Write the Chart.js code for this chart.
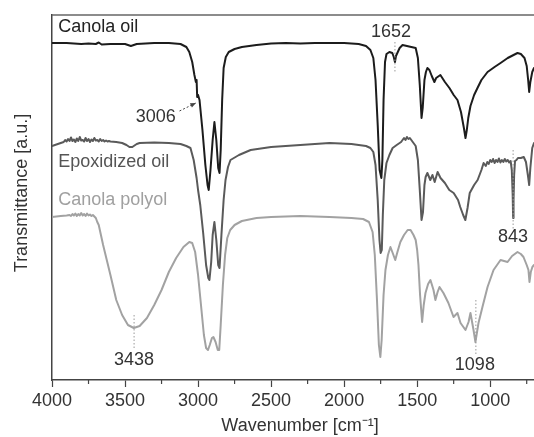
<!DOCTYPE html>
<html>
<head>
<meta charset="utf-8">
<script src="https://cdn.jsdelivr.net/npm/chart.js@4.4.1/dist/chart.umd.min.js"></script>
<style>
  html, body { margin: 0; padding: 0; background: #fff; }
  #wrap { width: 534px; height: 437px; }
</style>
</head>
<body>
<div id="wrap"><canvas id="ftir"></canvas></div>
<script>
// wavenumbers [cm-1] and transmittance (arbitrary units, offset per trace)
const canolaWn = [4000, 3900, 3800, 3750, 3700, 3680, 3660, 3600, 3500, 3460, 3420, 3300, 3200, 3120, 3080, 3060, 3040, 3025, 3015, 3010, 3006, 3000, 2990, 2970, 2950, 2935, 2927, 2915, 2900, 2888, 2875, 2862, 2853, 2845, 2835, 2825, 2810, 2790, 2750, 2700, 2600, 2500, 2400, 2300, 2200, 2100, 2000, 1900, 1850, 1820, 1800, 1785, 1770, 1757, 1745, 1738, 1730, 1720, 1710, 1690, 1670, 1660, 1652, 1645, 1620, 1600, 1570, 1540, 1510, 1495, 1482, 1470, 1462, 1450, 1440, 1430, 1416, 1400, 1382, 1370, 1341, 1310, 1279, 1250, 1224, 1200, 1180, 1169, 1160, 1150, 1135, 1110, 1087, 1060, 1018, 970, 929, 880, 840, 813, 790, 765, 750, 740, 733, 725, 712, 700];
const canolaT = [337, 337, 336, 336.5, 336, 337.5, 335.5, 336, 336, 334, 336, 337, 337, 336, 333, 328, 318, 305, 298, 300, 283, 285, 280, 250, 215, 195, 190, 210, 240, 258, 240, 212, 207, 230, 280, 312, 323, 328, 331, 333, 335, 336.5, 337, 336.5, 337, 337, 337, 336, 334, 330, 322, 300, 255, 210, 202, 220, 280, 318, 326, 328, 327, 323, 318, 324, 332, 335, 334, 333, 332, 322, 295, 262, 272, 300, 308, 312, 310, 304, 298, 302, 305, 298, 292, 285, 280, 268, 252, 242, 250, 262, 274, 285, 292, 300, 308, 313, 317, 322, 325, 327, 326, 322, 314, 300, 288, 298, 308, 312];

const epoxyWn = [4000, 3980, 3960, 3940, 3920, 3910, 3900, 3890, 3880, 3870, 3860, 3850, 3840, 3830, 3820, 3810, 3800, 3790, 3780, 3770, 3760, 3750, 3740, 3730, 3720, 3710, 3700, 3690, 3680, 3670, 3660, 3650, 3640, 3630, 3620, 3610, 3600, 3560, 3520, 3490, 3470, 3450, 3420, 3400, 3300, 3200, 3120, 3080, 3052, 3030, 3010, 3000, 2985, 2965, 2945, 2930, 2922, 2910, 2900, 2888, 2875, 2862, 2853, 2840, 2825, 2812, 2795, 2778, 2720, 2640, 2500, 2300, 2100, 1950, 1850, 1820, 1800, 1785, 1770, 1758, 1750, 1742, 1735, 1725, 1710, 1690, 1668, 1640, 1620, 1610, 1600, 1590, 1580, 1570, 1560, 1550, 1540, 1525, 1510, 1495, 1482, 1470, 1460, 1450, 1442, 1430, 1410, 1395, 1380, 1360, 1340, 1310, 1280, 1250, 1220, 1205, 1185, 1170, 1155, 1140, 1110, 1086, 1060, 1045, 1030, 1020, 1010, 1000, 990, 980, 970, 960, 950, 940, 930, 920, 910, 900, 890, 880, 870, 860, 852, 846, 843, 840, 836, 830, 820, 810, 790, 770, 755, 742, 733, 725, 712, 700];
const epoxyT = [234, 235, 236, 237, 238, 240, 238.5, 241, 239, 242.5, 239, 240.5, 238, 241.5, 239, 243, 239.5, 240, 238.5, 242, 239, 241, 238, 240.5, 239, 242, 239.5, 240, 238.5, 241, 239, 240, 238.5, 239.5, 238.5, 239, 238.5, 238, 237, 235, 233, 233, 236, 237, 237.5, 237, 236, 234, 232, 220, 202, 190, 175, 147, 115, 102, 100, 118, 145, 158, 140, 115, 112, 145, 180, 200, 213, 220, 225, 230, 233, 235, 237, 236, 234, 232, 228, 215, 180, 140, 127, 130, 165, 200, 217, 225, 232, 235, 237, 238, 240, 242, 240, 243, 241, 242, 240, 237, 234, 220, 190, 160, 168, 195, 203, 207, 200, 205, 198, 208, 202, 197, 190, 187, 180, 173, 165, 160, 172, 187, 195, 200, 210, 217, 214, 218, 216, 220, 218, 221, 217, 220, 218, 221.5, 217.5, 220, 218, 221, 218.5, 220, 217.5, 219, 210, 185, 162, 180, 205, 219, 220, 222, 222, 223, 218, 205, 195, 212, 232, 237];

const polyolWn = [4000, 3970, 3940, 3900, 3880, 3870, 3860, 3850, 3840, 3830, 3820, 3810, 3800, 3790, 3780, 3770, 3760, 3750, 3740, 3730, 3720, 3710, 3700, 3690, 3680, 3650, 3600, 3560, 3520, 3480, 3440, 3400, 3350, 3300, 3250, 3200, 3150, 3100, 3060, 3040, 3020, 3000, 2980, 2960, 2945, 2932, 2920, 2905, 2895, 2880, 2865, 2855, 2845, 2830, 2815, 2800, 2780, 2750, 2700, 2600, 2500, 2300, 2100, 1950, 1870, 1830, 1805, 1790, 1775, 1762, 1752, 1743, 1730, 1717, 1700, 1683, 1670, 1650, 1635, 1615, 1590, 1565, 1545, 1525, 1510, 1500, 1491, 1480, 1466, 1455, 1443, 1425, 1409, 1388, 1375, 1360, 1347, 1320, 1286, 1251, 1224, 1203, 1169, 1148, 1135, 1114, 1101, 1080, 1053, 1018, 977, 929, 881, 850, 813, 790, 772, 750, 738, 731, 722, 711, 700];
const polyolT = [163, 163.5, 164, 164.5, 165, 164, 166, 164.5, 166.5, 164, 166, 164.5, 167, 164.5, 166, 164, 166.5, 164.5, 165.5, 164, 165, 163.5, 162, 158, 155, 135, 105, 80, 65, 55, 52, 54, 62, 75, 90, 108, 122, 133, 138, 137, 128, 105, 75, 45, 32, 30, 35, 42, 43, 38, 30, 30, 55, 95, 125, 142, 150, 155, 159, 162, 163, 164, 163, 162, 161, 158, 148, 125, 80, 35, 23, 40, 85, 110, 125, 133, 128, 120, 128, 138, 145, 150, 150, 145, 140, 130, 115, 85, 58, 75, 87, 96, 100, 90, 80, 88, 93, 87, 77, 63, 67, 57, 50, 58, 67, 50, 38, 57, 73, 93, 110, 120, 118, 124, 128, 126, 123, 115, 110, 98, 108, 113, 115];

const tickVals = [4000, 3500, 3000, 2500, 2000, 1500, 1000];
const minorVals = [3750, 3250, 2750, 2250, 1750, 1250, 750];

// peak markers: wavenumber, dotted line from/to (transmittance units), label
const peaks = [
  { wn: 3438, from: 65, to: 30, label: '3438', ty: 20, dx: 0 },
  { wn: 1652, from: 338, to: 308, label: '1652', ty: 348, dx: -4 },
  { wn: 1098, from: 80, to: 25, label: '1098', ty: 15, dx: -1 },
  { wn: 843, from: 230, to: 150, label: '843', ty: 143, dx: 0 }
];

const seriesLabels = [
  { text: 'Canola oil', wn: 3957, t: 353, color: '#222' },
  { text: 'Epoxidized oil', wn: 3957, t: 218, color: '#555' },
  { text: 'Canola polyol', wn: 3957, t: 180, color: '#a0a0a0' }
];

const toPts = (wn, t) => wn.map((w, i) => ({ x: w, y: t[i] }));

const FONT = '18px "Liberation Sans", Arial, sans-serif';

const decorations = {
    id: 'decorations',
    afterDraw(chart) {
        const { ctx, scales: { x, y }, chartArea: a } = chart;
        ctx.save();

        // top frame line
        ctx.strokeStyle = '#666';
        ctx.lineWidth = 1.5;
        ctx.beginPath();
        ctx.moveTo(a.left, a.top);
        ctx.lineTo(a.right, a.top);
        ctx.stroke();

        // minor ticks
        ctx.strokeStyle = '#444';
        ctx.lineWidth = 1.2;
        minorVals.forEach(v => {
            const px = x.getPixelForValue(v);
            ctx.beginPath();
            ctx.moveTo(px, a.bottom);
            ctx.lineTo(px, a.bottom + 4);
            ctx.stroke();
        });

        // series names
        ctx.font = FONT;
        ctx.textBaseline = 'middle';
        ctx.textAlign = 'left';
        seriesLabels.forEach(s => {
            ctx.fillStyle = s.color;
            ctx.fillText(s.text, x.getPixelForValue(s.wn), y.getPixelForValue(s.t));
        });

        // peak markers
        peaks.forEach(p => {
            const px = x.getPixelForValue(p.wn);
            ctx.strokeStyle = '#999';
            ctx.lineWidth = 1;
            ctx.setLineDash([1.5, 2]);
            ctx.beginPath();
            ctx.moveTo(px, y.getPixelForValue(p.from));
            ctx.lineTo(px, y.getPixelForValue(p.to));
            ctx.stroke();
            ctx.setLineDash([]);
            ctx.fillStyle = '#333';
            ctx.textAlign = 'center';
            ctx.fillText(p.label, px + p.dx, y.getPixelForValue(p.ty));
        });

        // 3006 label with arrow
        ctx.fillStyle = '#333';
        ctx.textAlign = 'center';
        ctx.fillText('3006', x.getPixelForValue(3290), y.getPixelForValue(263));
        const x1 = x.getPixelForValue(3127), y1 = y.getPixelForValue(269);
        const x2 = x.getPixelForValue(3015), y2 = y.getPixelForValue(277);
        ctx.strokeStyle = '#444';
        ctx.lineWidth = 1;
        ctx.setLineDash([2, 2]);
        ctx.beginPath();
        ctx.moveTo(x1, y1);
        ctx.lineTo(x2, y2);
        ctx.stroke();
        ctx.setLineDash([]);
        const ang = Math.atan2(y2 - y1, x2 - x1);
        ctx.fillStyle = '#444';
        ctx.beginPath();
        ctx.moveTo(x2, y2);
        ctx.lineTo(x2 - 6 * Math.cos(ang - 0.4), y2 - 6 * Math.sin(ang - 0.4));
        ctx.lineTo(x2 - 6 * Math.cos(ang + 0.4), y2 - 6 * Math.sin(ang + 0.4));
        ctx.closePath();
        ctx.fill();

        // axis titles
        ctx.fillStyle = '#333';
        ctx.textAlign = 'center';
        ctx.fillText('Wavenumber [cm\u207B\u00B9]', 300, 426);
        ctx.translate(22, 193);
        ctx.rotate(-Math.PI / 2);
        ctx.fillText('Transmittance [a.u.]', 0, 0);

        ctx.restore();
    }
};

new Chart(document.getElementById('ftir'), {
    type: 'line',
    data: {
        datasets: [{
            label: 'Canola oil',
            data: toPts(canolaWn, canolaT),
            borderColor: '#1c1c1c',
            borderWidth: 2
        }, {
            label: 'Epoxidized oil',
            data: toPts(epoxyWn, epoxyT),
            borderColor: '#5a5a5a',
            borderWidth: 2
        }, {
            label: 'Canola polyol',
            data: toPts(polyolWn, polyolT),
            borderColor: '#a2a2a2',
            borderWidth: 2
        }]
    },
    options: {
        responsive: true,
        maintainAspectRatio: false,
        animation: false,
        layout: { padding: { left: 0, top: 15, right: 0, bottom: 0 } },
        elements: {
            point: { radius: 0 },
            line: { tension: 0, borderJoinStyle: 'round', borderCapStyle: 'round' }
        },
        plugins: {
            legend: { display: false },
            tooltip: { enabled: false }
        },
        scales: {
            x: {
                type: 'linear',
                reverse: true,
                min: 700,
                max: 4000,
                afterBuildTicks: scale => { scale.ticks = tickVals.map(v => ({ value: v })); },
                afterFit: scale => { scale.height = 57; },
                ticks: {
                    color: '#333',
                    font: { family: '"Liberation Sans", Arial, sans-serif', size: 18 },
                    padding: 3,
                    maxRotation: 0,
                    callback: v => String(v)
                },
                grid: { drawOnChartArea: false, tickLength: 7, tickColor: '#444', tickWidth: 1.2 },
                border: { color: '#444', width: 1.5 }
            },
            y: {
                min: 0,
                max: 365,
                afterFit: scale => { scale.width = 52; },
                ticks: { display: false },
                grid: { display: false },
                border: { color: '#444', width: 1.5 }
            }
        }
    },
    plugins: [decorations]
});
</script>
</body>
</html>
